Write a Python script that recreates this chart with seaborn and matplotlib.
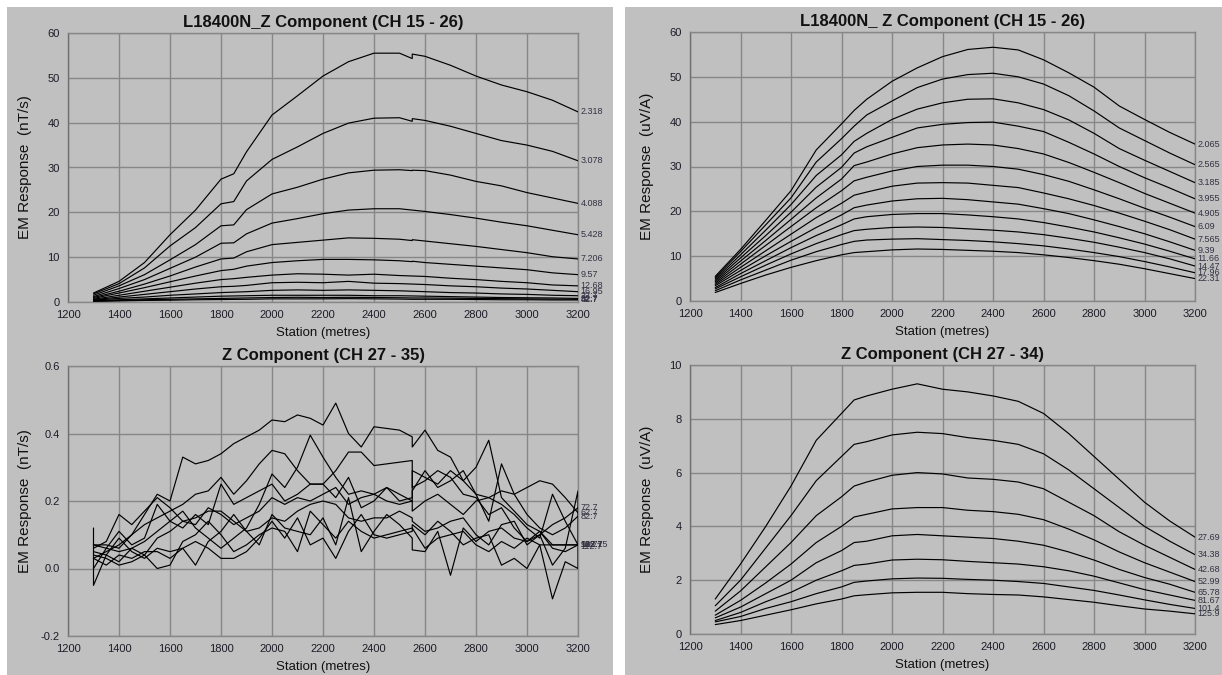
import matplotlib
matplotlib.use("Agg")
import matplotlib.pyplot as plt
from matplotlib.patches import Rectangle
from matplotlib.ticker import FormatStrFormatter
import pandas as pd
import seaborn as sns

# ---------------- data ----------------
x_ticks = [1200, 1400, 1600, 1800, 2000, 2200, 2400, 2600, 2800, 3000, 3200]

# Top-left: L18400N_Z Component (CH 15 - 26), nT/s
tl_stations = [1300, 1400, 1500, 1600, 1700, 1800, 1850, 1900, 2000, 2100, 2200, 2300,
               2400, 2500, 2550, 2550, 2600, 2700, 2800, 2900, 3000, 3100, 3200]
tl_labels = ["2.318", "3.078", "4.088", "5.428", "7.206", "9.57", "12.68", "16.95",
             "22.7", "32.7", "42.7", "52.7"]
tl_values = [
    [2.0, 4.6, 8.8, 15.0, 20.5, 27.4, 28.6, 33.5, 41.7, 46.0, 50.4, 53.6, 55.5, 55.5, 54.3, 55.3, 54.8, 52.8, 50.4, 48.4, 46.9, 45.0, 42.4],
    [1.8, 4.1, 7.6, 12.5, 16.6, 21.9, 22.4, 27.0, 31.8, 34.6, 37.6, 39.9, 41.0, 41.1, 40.3, 40.9, 40.5, 39.2, 37.6, 36.0, 35.0, 33.6, 31.5],
    [1.5, 3.6, 6.1, 9.4, 12.8, 17.0, 17.2, 20.6, 24.1, 25.6, 27.4, 28.8, 29.4, 29.5, 29.3, 29.4, 29.3, 28.3, 26.9, 25.9, 24.4, 23.2, 22.0],
    [1.2, 3.0, 5.0, 7.5, 10.0, 13.1, 13.2, 15.2, 17.6, 18.6, 19.7, 20.5, 20.8, 20.8, 20.5, 20.5, 20.2, 19.5, 18.7, 17.8, 17.0, 16.0, 15.0],
    [1.0, 2.4, 4.0, 5.8, 7.8, 9.6, 9.8, 11.2, 12.8, 13.3, 13.8, 14.3, 14.2, 14.0, 13.7, 13.9, 13.6, 13.0, 12.4, 11.7, 11.0, 10.1, 9.6],
    [0.8, 2.0, 3.2, 4.5, 5.8, 7.0, 7.3, 8.0, 8.8, 9.2, 9.5, 9.5, 9.4, 9.2, 9.0, 9.1, 8.8, 8.4, 8.0, 7.6, 7.2, 6.5, 6.1],
    [0.6, 1.5, 2.4, 3.3, 4.2, 5.0, 5.2, 5.5, 6.0, 6.3, 6.2, 6.0, 6.2, 5.9, 5.8, 5.8, 5.7, 5.3, 5.0, 4.6, 4.3, 3.8, 3.6],
    [0.5, 1.1, 1.7, 2.3, 2.9, 3.4, 3.5, 3.7, 4.3, 4.4, 4.3, 4.6, 4.2, 4.1, 4.0, 4.0, 3.9, 3.6, 3.4, 3.1, 2.9, 2.6, 2.3],
    [0.4, 0.8, 1.1, 1.5, 1.8, 2.1, 2.2, 2.3, 2.6, 2.7, 2.6, 2.7, 2.6, 2.5, 2.4, 2.4, 2.3, 2.1, 2.0, 1.8, 1.7, 1.5, 1.4],
    [0.3, 0.5, 0.7, 0.9, 1.1, 1.3, 1.35, 1.4, 1.5, 1.5, 1.5, 1.5, 1.4, 1.4, 1.35, 1.35, 1.3, 1.2, 1.1, 1.0, 0.95, 0.9, 0.8],
    [0.2, 0.35, 0.5, 0.6, 0.7, 0.8, 0.85, 0.9, 1.0, 1.05, 1.0, 1.05, 1.0, 0.95, 0.9, 0.9, 0.9, 0.85, 0.8, 0.75, 0.7, 0.65, 0.6],
    [0.15, 0.25, 0.35, 0.4, 0.5, 0.55, 0.58, 0.6, 0.7, 0.7, 0.7, 0.75, 0.7, 0.65, 0.6, 0.6, 0.6, 0.6, 0.55, 0.5, 0.5, 0.45, 0.45],
]
tl_yticks = [0, 10, 20, 30, 40, 50, 60]

# Bottom-left: Z Component (CH 27 - 35), nT/s
bl_stations = [1300, 1300, 1350, 1400, 1450, 1500, 1550, 1600, 1650, 1700, 1750, 1800, 1850,
               1900, 1950, 2000, 2050, 2100, 2150, 2200, 2250, 2300, 2350, 2400, 2450, 2500,
               2550, 2550, 2600, 2650, 2700, 2750, 2800, 2850, 2900, 2950, 3000, 3050, 3100,
               3150, 3200, 3200]
bl_labels = ["62.7", "72.7", "132.7", "82.7", "92.7", "102.7", "112.7", "122.7", "142.15"]
bl_values = [
    [.07, .07, .07, .06, .10, .16, .22, .20, .33, .31, .32, .34, .37, .39, .41, .44, .435, .455, .445, .425, .49, .40, .36, .42, .415, .41,
     .39, .36, .41, .35, .33, .26, .22, .21, .23, .22, .24, .26, .25, .21, .165, .165],
    [.03, .03, .05, .07, .10, .13, .15, .17, .19, .22, .23, .27, .22, .26, .31, .35, .34, .29, .25, .25, .29, .345, .345, .305, .31, .315,
     .32, .24, .26, .29, .27, .22, .21, .16, .18, .12, .08, .10, .13, .15, .18, .18],
    [.05, .05, .04, .02, .06, .08, .11, .14, .17, .12, .09, .06, .09, .12, .19, .28, .24, .30, .395, .33, .27, .22, .23, .22, .24, .22,
     .20, .29, .27, .25, .29, .26, .30, .38, .21, .17, .13, .11, .06, .05, .07, .07],
    [.00, .00, .06, .11, .07, .09, .19, .14, .12, .16, .13, .25, .19, .21, .23, .25, .20, .22, .25, .25, .21, .27, .18, .20, .24, .20,
     .21, .23, .29, .24, .26, .29, .22, .14, .31, .22, .16, .12, .10, .12, .155, .155],
    [.06, .06, .08, .16, .13, .17, .21, .18, .14, .13, .18, .16, .13, .15, .17, .21, .19, .21, .20, .22, .24, .19, .21, .22, .20, .19,
     .20, .17, .20, .22, .19, .16, .20, .21, .19, .16, .12, .09, .22, .14, .07, .07],
    [.04, .04, .03, .01, .02, .04, .09, .11, .14, .15, .17, .17, .14, .11, .12, .15, .14, .17, .19, .20, .19, .15, .14, .15, .15, .17,
     .15, .14, .11, .12, .14, .15, .10, .07, .13, .14, .07, .10, .01, .06, .23, .07],
    [.07, .07, .06, .05, .06, .04, .00, .01, .08, .10, .14, .10, .05, .07, .10, .12, .11, .05, .17, .13, .09, .14, .11, .09, .10, .11,
     .12, .13, .10, .14, .11, .07, .09, .10, .01, .03, .00, .07, -.09, .02, .00, .065],
    [.12, -.05, .04, .09, .05, .03, .06, .05, .06, .01, .08, .11, .16, .11, .07, .16, .12, .11, .10, .15, .07, .21, .05, .11, .16, .13,
     .09, .055, .05, .11, -.02, .12, .08, .11, .12, .09, .08, .11, .07, .07, .07, .07],
    [.03, .03, .01, .04, .03, .05, .05, .03, .06, .08, .06, .03, .03, .05, .09, .14, .09, .15, .07, .09, .03, .11, .16, .10, .09, .10,
     .11, .12, .06, .09, .10, .11, .07, .05, .08, .06, .09, .07, .07, .07, .07, .07],
]
bl_yticks = [-0.2, 0.0, 0.2, 0.4, 0.6]

# Top-right: L18400N_ Z Component (CH 15 - 26), uV/A
tr_stations = [1300, 1400, 1500, 1600, 1700, 1800, 1850, 1900, 2000, 2100, 2200, 2300,
               2400, 2500, 2600, 2700, 2800, 2900, 3000, 3100, 3200]
tr_labels = ["2.065", "2.565", "3.185", "3.955", "4.905", "6.09", "7.565", "9.39",
             "11.66", "14.47", "17.96", "22.31"]
tr_values = [
    [5.5, 11.5, 18.0, 24.6, 33.7, 39.5, 42.5, 45.0, 49.0, 52.0, 54.5, 56.1, 56.6, 56.0, 53.8, 50.9, 47.7, 43.5, 40.5, 37.6, 35.0],
    [5.2, 11.0, 17.0, 23.0, 31.0, 36.2, 39.0, 41.5, 44.6, 47.6, 49.5, 50.5, 50.8, 50.0, 48.4, 45.8, 42.4, 38.6, 35.8, 33.0, 30.4],
    [4.9, 10.3, 15.8, 21.5, 28.0, 32.6, 35.6, 37.4, 40.5, 42.8, 44.2, 45.0, 45.1, 44.2, 42.7, 40.4, 37.4, 34.0, 31.4, 28.9, 26.4],
    [4.6, 9.6, 14.6, 19.8, 25.4, 29.8, 33.0, 34.4, 36.5, 38.6, 39.4, 39.8, 39.9, 39.0, 37.8, 35.4, 32.8, 30.0, 27.5, 25.2, 22.8],
    [4.3, 8.9, 13.5, 18.2, 23.0, 27.2, 30.2, 31.0, 32.8, 34.2, 34.8, 35.0, 34.8, 34.0, 32.8, 30.9, 28.7, 26.4, 24.0, 21.8, 19.6],
    [4.0, 8.2, 12.4, 16.6, 20.8, 24.6, 26.8, 27.6, 29.0, 30.0, 30.3, 30.3, 30.0, 29.4, 28.2, 26.7, 24.8, 22.8, 20.7, 18.7, 16.6],
    [3.7, 7.5, 11.2, 14.9, 18.6, 21.8, 23.6, 24.3, 25.6, 26.3, 26.4, 26.3, 25.8, 25.3, 24.1, 22.8, 21.3, 19.6, 17.8, 15.9, 13.8],
    [3.4, 6.8, 10.1, 13.3, 16.4, 19.2, 20.8, 21.4, 22.3, 22.8, 22.9, 22.6, 22.1, 21.6, 20.6, 19.5, 18.1, 16.6, 15.0, 13.2, 11.3],
    [3.0, 6.1, 9.0, 11.9, 14.6, 17.0, 18.3, 18.8, 19.3, 19.5, 19.5, 19.2, 18.8, 18.3, 17.5, 16.5, 15.4, 14.1, 12.7, 11.1, 9.4],
    [2.7, 5.4, 8.0, 10.5, 12.8, 14.8, 15.7, 16.0, 16.4, 16.5, 16.4, 16.1, 15.8, 15.4, 14.8, 14.0, 13.1, 12.0, 10.8, 9.4, 7.8],
    [2.3, 4.7, 6.9, 9.1, 11.0, 12.6, 13.3, 13.6, 13.8, 13.9, 13.7, 13.5, 13.2, 12.8, 12.3, 11.6, 10.8, 9.9, 8.8, 7.6, 6.3],
    [1.9, 3.9, 5.8, 7.5, 9.0, 10.3, 10.8, 11.0, 11.4, 11.6, 11.5, 11.3, 11.1, 10.8, 10.3, 9.7, 9.0, 8.2, 7.2, 6.1, 5.0],
]
tr_yticks = [0, 10, 20, 30, 40, 50, 60]

# Bottom-right: Z Component (CH 27 - 34), uV/A
br_stations = tr_stations
br_labels = ["27.69", "34.38", "42.68", "52.99", "65.78", "81.67", "101.4", "125.9"]
br_values = [
    [1.3, 2.6, 4.0, 5.5, 7.2, 8.2, 8.7, 8.85, 9.1, 9.3, 9.1, 9.0, 8.85, 8.65, 8.2, 7.45, 6.6, 5.75, 4.9, 4.2, 3.6],
    [1.05, 2.0, 3.2, 4.4, 5.7, 6.6, 7.05, 7.15, 7.4, 7.5, 7.45, 7.3, 7.2, 7.05, 6.7, 6.1, 5.4, 4.7, 4.0, 3.45, 2.95],
    [0.85, 1.6, 2.5, 3.4, 4.4, 5.1, 5.5, 5.65, 5.9, 6.0, 5.95, 5.8, 5.75, 5.65, 5.4, 4.9, 4.4, 3.8, 3.3, 2.85, 2.4],
    [0.7, 1.25, 1.9, 2.6, 3.4, 4.0, 4.35, 4.45, 4.65, 4.7, 4.7, 4.6, 4.55, 4.45, 4.25, 3.9, 3.5, 3.05, 2.65, 2.3, 1.95],
    [0.6, 1.0, 1.5, 2.0, 2.65, 3.1, 3.4, 3.45, 3.65, 3.7, 3.65, 3.6, 3.55, 3.45, 3.3, 3.05, 2.75, 2.4, 2.1, 1.85, 1.55],
    [0.5, 0.8, 1.2, 1.55, 2.0, 2.35, 2.55, 2.6, 2.75, 2.78, 2.76, 2.7, 2.65, 2.6, 2.5, 2.35, 2.15, 1.9, 1.65, 1.45, 1.25],
    [0.45, 0.65, 0.95, 1.2, 1.5, 1.75, 1.92, 1.97, 2.05, 2.08, 2.07, 2.03, 2.0, 1.95, 1.88, 1.75, 1.62, 1.45, 1.27, 1.1, 0.95],
    [0.35, 0.5, 0.7, 0.9, 1.12, 1.3, 1.42, 1.46, 1.53, 1.55, 1.55, 1.5, 1.47, 1.45, 1.38, 1.28, 1.18, 1.05, 0.93, 0.85, 0.75],
]
br_yticks = [0, 2, 4, 6, 8, 10]

# ---------------- styling ----------------
sns.set_style("white")
plt.rcParams['font.family'] = ['Liberation Sans', 'DejaVu Sans']

W, H = 1222, 675
BG = '#c0c0c0'
GRID = '#878787'
fig = plt.figure(figsize=(W / 100, H / 100), dpi=100)
fig.patch.set_facecolor('white')
for x0, x1 in [(7, 613), (625, 1222)]:
    fig.add_artist(Rectangle((x0 / W, 0), (x1 - x0) / W, (H - 7) / H,
                             transform=fig.transFigure, facecolor=BG,
                             edgecolor='none', zorder=-10))


def panel(box, stations, labels, values, ylim, yticks, yfmt, title, ylabel):
    l, r, t, b = box
    ax = fig.add_axes([l / W, (H - b) / H, (r - l) / W, (b - t) / H])
    ax.set_facecolor(BG)
    rows = []
    for lab, vals in zip(labels, values):
        assert len(vals) == len(stations), (lab, len(vals), len(stations))
        for i, (s, v) in enumerate(zip(stations, vals)):
            rows.append((lab, i, s, v))
    df = pd.DataFrame(rows, columns=['ch', 'order', 'station', 'value'])
    sns.lineplot(data=df, x='station', y='value', hue='ch', hue_order=labels,
                 palette={lab: 'black' for lab in labels}, estimator=None,
                 sort=False, legend=False, linewidth=0.85, ax=ax, zorder=3)
    for lab, vals in zip(labels, values):
        ax.annotate(lab, xy=(stations[-1], vals[-1]), xytext=(2, 0),
                    textcoords='offset points', fontsize=6.5, va='center',
                    ha='left', color='#333344', annotation_clip=False)
    ax.set_xlim(1200, 3200)
    ax.set_ylim(*ylim)
    ax.set_xticks(x_ticks)
    ax.set_yticks(yticks)
    ax.yaxis.set_major_formatter(FormatStrFormatter(yfmt))
    ax.grid(True, color=GRID, linewidth=1.0)
    ax.set_axisbelow(True)
    for side, sp in ax.spines.items():
        sp.set_visible(True)
        sp.set_color(GRID)
        sp.set_linewidth(1.0)
    ax.spines['left'].set_color('#707070')
    ax.tick_params(direction='out', length=4, width=1, color=GRID,
                   labelsize=8, labelcolor='#1c1c28', pad=2)
    ax.set_title(title, fontsize=12, fontweight='bold', pad=4, color='#111111')
    ax.set_xlabel('Station (metres)', fontsize=9.5, color='#111111')
    ax.set_ylabel(ylabel, fontsize=11, color='#111111')
    ax.xaxis.set_label_coords(0.5, -(25 / (b - t)))
    ax.yaxis.set_label_coords(-(36 / (r - l)), 0.5)
    return ax


panel((68, 578, 33, 302), tl_stations, tl_labels, tl_values, (0, 60), tl_yticks, '%d',
      'L18400N_Z Component (CH 15 - 26)', 'EM Response  (nT/s)')
panel((68, 578, 366, 636), bl_stations, bl_labels, bl_values, (-0.2, 0.6), bl_yticks, '%.1f',
      'Z Component (CH 27 - 35)', 'EM Response  (nT/s)')
panel((690, 1195, 32, 301), tr_stations, tr_labels, tr_values, (0, 60), tr_yticks, '%d',
      'L18400N_ Z Component (CH 15 - 26)', 'EM Response  (uV/A)')
panel((690, 1195, 365, 634), br_stations, br_labels, br_values, (0, 10), br_yticks, '%d',
      'Z Component (CH 27 - 34)', 'EM Response  (uV/A)')

fig.savefig('out.png', dpi=100, facecolor=fig.get_facecolor())
